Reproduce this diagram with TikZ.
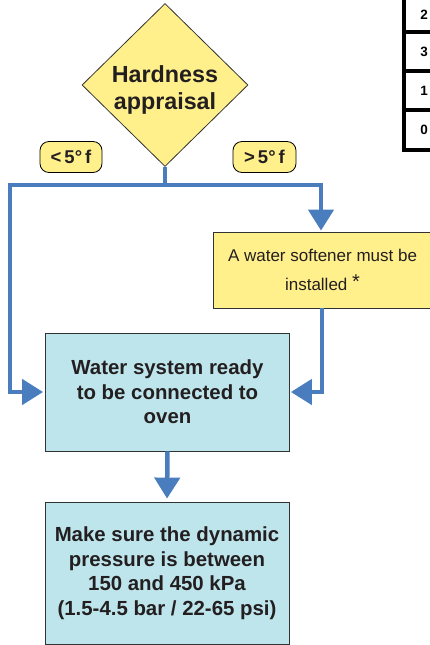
\documentclass[tikz,border=0pt]{standalone}
\usepackage{fontspec}
\setmainfont{Liberation Sans}
\usetikzlibrary{shapes.geometric,arrows.meta}
\definecolor{yfill}{RGB}{255,240,140}
\definecolor{bfill}{RGB}{190,229,236}
\definecolor{lblue}{RGB}{74,125,190}
\definecolor{dtext}{RGB}{35,31,32}
\definecolor{bord}{RGB}{50,50,50}
\tikzset{
  flow/.style={draw=lblue, line width=4.5pt},
  flowarr/.style={flow, -{Triangle[width=25pt,length=21pt]}},
  bluebox/.style={draw=bord, line width=0.8pt, fill=bfill, minimum width=244pt, text=dtext,
    align=center, font=\fontsize{20.4}{24.5}\selectfont\bfseries, inner sep=0pt},
  tag/.style={draw=black, line width=0.8pt, fill=yfill, rounded corners=9pt, minimum height=31pt,
    inner sep=0pt, text=dtext, font=\fontsize{18.5}{18.5}\selectfont\bfseries},
  digit/.style={font=\fontsize{13.5}{14}\selectfont\bfseries, text=black, inner sep=0pt},
  tabline/.style={draw=black, line width=3.5pt},
}
\begin{document}
\begin{tikzpicture}[x=1pt,y=-1pt]
\useasboundingbox (0,0) rectangle (430,645);
% decision
\node[diamond, aspect=1, draw=bord, line width=0.8pt, fill=yfill, minimum width=166pt, minimum height=163pt,
  inner sep=0pt] (hd) at (165,85) {};
\node[align=center, text=dtext, inner sep=0pt, font=\fontsize{23.3}{27}\selectfont\bfseries] (hdt) at (165,90) {Hardness\\appraisal};
% tags
\node[tag, minimum width=62pt] (lt) at (71,157) {<\,5°\,f};
\node[tag, minimum width=63pt] (gt) at (264.5,157) {>\,5°\,f};
% softener
\node[draw=bord, line width=0.8pt, fill=yfill, minimum width=219pt, minimum height=76pt, inner sep=0pt,
  align=center, text=dtext, font=\fontsize{17}{29}\selectfont] (soft) at (322.5,270)
  {A water softener must be\\installed \raisebox{2pt}{\fontsize{20}{20}\selectfont *}};
% boxes
\node[bluebox, minimum height=118pt] (ready) at (167.5,392) {Water system ready\\to be connected to\\oven};
\node[bluebox, minimum height=142pt] (make) at (167,573) {Make sure the dynamic\\pressure is between\\150 and 450 kPa\\(1.5-4.5 bar / 22-65 psi)};
% connectors
\coordinate (jn) at (165,185);
\coordinate (lc) at (10,185);
\coordinate (rc) at (321,185);
\coordinate (rd) at (322,308);
\draw[flow] (hd.south) -- (jn);
\draw[flowarr, shorten >=2pt] (jn) -- (lc) |- (ready.west);
\draw[flowarr, shorten >=1pt] (jn) -- (rc) -- (rc |- soft.north);
\draw[flowarr, shorten >=1pt] (rd) |- (ready.east);
\draw[flowarr, shorten >=3pt] (ready.south) -- (make.north);
% table fragment
\draw[tabline] (404,0) -- (404,151.7);
\draw[tabline] (402.3,32) -- (432,32);
\draw[tabline] (402.3,71) -- (432,71);
\draw[tabline] (402.3,110) -- (432,110);
\draw[tabline] (402.3,150) -- (432,150);
\node[digit] (d2) at (424,15) {2};
\node[digit] (d3) at (424,52) {3};
\node[digit] (d1) at (424,91) {1};
\node[digit] (d0) at (424,130) {0};
\end{tikzpicture}
\end{document}
